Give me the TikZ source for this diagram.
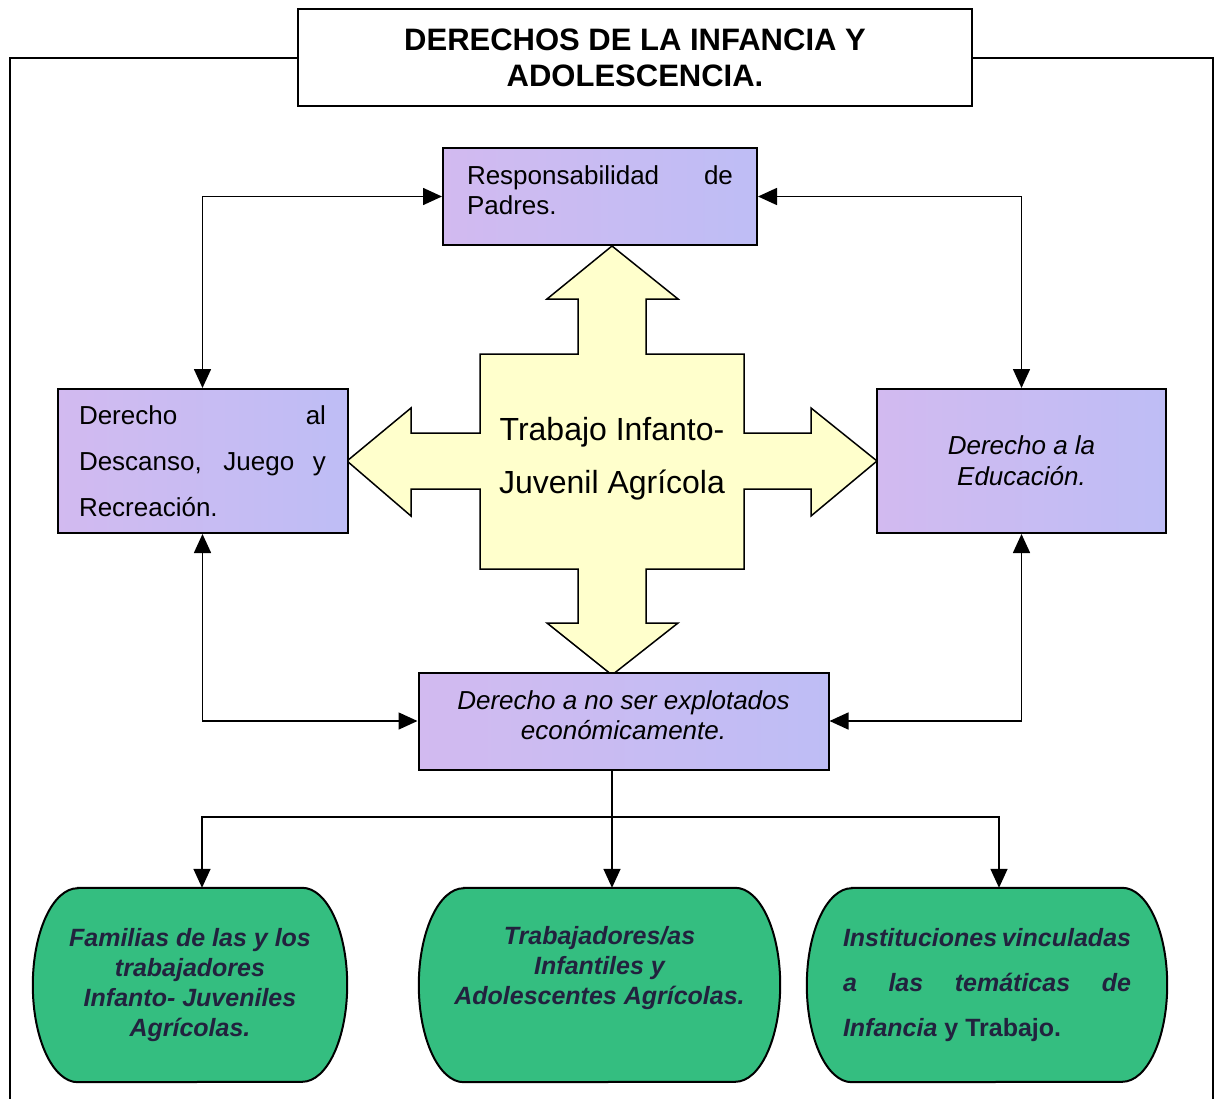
\documentclass[tikz,border=0pt]{standalone}
\usepackage{fontspec}
\setmainfont{Liberation Sans}
\usetikzlibrary{arrows.meta,backgrounds}

\definecolor{lilaA}{RGB}{210,186,240}
\definecolor{lilaB}{RGB}{190,189,245}
\definecolor{verde}{RGB}{52,190,128}
\definecolor{crema}{RGB}{255,255,204}
\definecolor{tinta}{RGB}{34,34,62}

\newcommand{\linea}[2][247pt]{\makebox[#1][s]{#2}}

\tikzset{
  caja/.style={draw,line width=2pt,left color=lilaA,right color=lilaB,minimum height=97pt,font=\fontsize{26}{30}\selectfont},
  ovalo/.style={minimum height=194pt,align=center,text=tinta,font=\fontsize{25}{30}\selectfont\bfseries\itshape},
  borde/.style={draw,line width=2pt,fill=verde},
  doble/.style={line width=1.6pt,{Triangle[length=19pt,width=17pt]}-{Triangle[length=19pt,width=17pt]}},
  punta/.style={line width=1.6pt,-{Triangle[length=19pt,width=17pt]}},
}

\begin{document}
\begin{tikzpicture}[x=1pt,y=-1pt]
  \useasboundingbox (0,0) rectangle (1217,1099);
  \draw[line width=1.5pt,fill=crema] (480,354) -- (578,354) -- (578,299) -- (547,299) -- (612,246) -- (678,299) -- (646,299) -- (646,354)
    -- (744,354) -- (744,433) -- (811,433) -- (811,408) -- (877,461) -- (811,516) -- (811,489) -- (744,489)
    -- (744,569) -- (646,569) -- (646,623) -- (678,623) -- (612,675) -- (547,623) -- (578,623) -- (578,569)
    -- (480,569) -- (480,489) -- (411,489) -- (411,516) -- (347,461) -- (411,408) -- (411,433) -- (480,433) -- cycle; %cruz
  \node (trabajo) at (612,459) [align=center,font=\fontsize{32}{53}\selectfont] {Trabajo Infanto-\\Juvenil Agrícola};

  \node (titulo) at (635,58) [draw,line width=2pt,fill=white,minimum width=674pt,minimum height=97pt,align=center,font=\fontsize{31}{36}\selectfont\bfseries] {DERECHOS DE LA INFANCIA Y\\ADOLESCENCIA.};
  \coordinate (marcoI) at (10,1099);
  \coordinate (marcoD) at (1213,1099);
  \draw[line width=1.6pt] (titulo.west) -| (marcoI);
  \draw[line width=1.6pt] (titulo.east) -| (marcoD);

  \node (padres) at (600,196.5) [caja,minimum width=314pt,align=left,text depth=12pt] {\linea[266pt]{Responsabilidad de}\\Padres.};
  \node (descanso) at (202.5,461) [caja,minimum width=290pt,minimum height=144pt,align=left,font=\fontsize{26}{46}\selectfont] {\linea{Derecho al}\\\linea{Descanso, Juego y}\\Recreación.};
  \node (educacion) at (1021.5,461) [caja,minimum width=289pt,minimum height=144pt,align=center,font=\fontsize{26}{31}\selectfont\itshape] {Derecho a la\\Educación.};
  \node (explotados) at (623.5,721) [caja,minimum width=410pt,align=center,text depth=12pt,font=\fontsize{26}{30}\selectfont\itshape] {Derecho a no ser explotados\\económicamente.};

  \draw[doble] (padres.west) -| (descanso.north);
  \draw[doble] (padres.east) -| (educacion.north);
  \draw[doble] (descanso.south) |- (explotados.west);
  \draw[doble] (educacion.south) |- (explotados.east);

  \node (familias) at (190,985) [ovalo,minimum width=314pt] {Familias de las y los\\trabajadores\\Infanto- Juveniles\\Agrícolas.};
  \node (trabajadores) at (599.5,985) [ovalo,minimum width=361pt] {Trabajadores/as\\Infantiles y\\Adolescentes Agrícolas.\\\strut};
  \node (instituciones) at (987,985) [ovalo,minimum width=360pt,align=left,font=\fontsize{25}{45}\selectfont\bfseries\itshape] {\linea[288pt]{Instituciones vinculadas}\\\linea[288pt]{a las temáticas de}\\Infancia {\upshape y Trabajo.}};
  \begin{scope}[on background layer]
    \foreach \n in {familias,trabajadores,instituciones}
      \draw[borde] ([xshift=45pt]\n.north west) -- ([xshift=-45pt]\n.north east)
        arc[start angle=90,end angle=-90,x radius=45pt,y radius=97pt] -- ([xshift=45pt]\n.south west)
        arc[start angle=270,end angle=90,x radius=45pt,y radius=97pt] -- cycle;
  \end{scope}

  \coordinate (reparto) at (612,817);
  \draw[line width=1.6pt] (explotados.south -| reparto) -- (reparto);
  \draw[punta] (reparto) -| ([xshift=12pt]familias.north);
  \draw[punta] (reparto) -- (reparto |- trabajadores.north);
  \draw[punta] (reparto) -| ([xshift=12pt]instituciones.north);
\end{tikzpicture}
\end{document}
